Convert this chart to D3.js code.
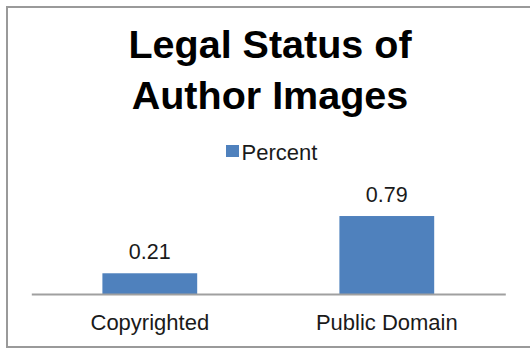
<!DOCTYPE html>
<html>
<head>
<meta charset="utf-8">
<script src="https://cdn.jsdelivr.net/npm/d3@7"></script>
<style>
  html, body { margin: 0; padding: 0; background: #fff; }
  svg { display: block; }
</style>
</head>
<body>
<svg id="chart" width="530" height="349"></svg>
<script>
const titleLines = ["Legal Status of", "Author Images"];
const seriesName = "Percent";
const categories = ["Copyrighted", "Public Domain"];
const values = [0.21, 0.79];
const yDomain = [0, 1];

const svg = d3.select("#chart");
const FONT = "Liberation Sans, Arial, sans-serif";

// chart border (right edge runs off the picture)
svg.append("rect")
  .attr("x", 7).attr("y", 7)
  .attr("width", 540).attr("height", 340)
  .attr("fill", "#fff")
  .attr("stroke", "#9a9a9a")
  .attr("stroke-width", 2);

const plot = { left: 31.3, right: 505.3, bottom: 294, top: 195.3 };

const x = d3.scaleBand()
  .domain(categories)
  .range([plot.left, plot.right])
  .paddingInner(0.6)
  .paddingOuter(0.3);

const y = d3.scaleLinear()
  .domain(yDomain)
  .range([plot.bottom, plot.top]);

// title
const title = svg.append("text")
  .attr("text-anchor", "middle")
  .attr("font-family", FONT)
  .attr("font-weight", "bold")
  .attr("font-size", 39.5)
  .attr("fill", "#000");
title.selectAll("tspan")
  .data(titleLines)
  .join("tspan")
  .attr("x", 270)
  .attr("y", (d, i) => 57.5 + i * 51.5)
  .text(d => d);

// legend
const legend = svg.append("g");
legend.append("rect")
  .attr("x", 226).attr("y", 145)
  .attr("width", 13).attr("height", 12)
  .attr("fill", "#4f81bd");
legend.append("text")
  .attr("x", 241.5).attr("y", 159.5)
  .attr("font-family", FONT)
  .attr("font-size", 22)
  .attr("fill", "#1a1a1a")
  .text(seriesName);

// bars
const data = categories.map((c, i) => ({ c, v: values[i] }));
svg.append("g").selectAll("rect")
  .data(data)
  .join("rect")
  .attr("x", d => x(d.c))
  .attr("y", d => y(d.v))
  .attr("width", x.bandwidth())
  .attr("height", d => y(0) - y(d.v))
  .attr("fill", "#4f81bd");

// data labels
svg.append("g").selectAll("text")
  .data(data)
  .join("text")
  .attr("x", d => x(d.c) + x.bandwidth() / 2)
  .attr("y", d => y(d.v) - 14)
  .attr("text-anchor", "middle")
  .attr("font-family", FONT)
  .attr("font-size", 21.5)
  .attr("fill", "#1a1a1a")
  .text(d => d.v.toFixed(2));

// x axis
const xAxis = d3.axisBottom(x).tickSize(0).tickPadding(0);
const gx = svg.append("g")
  .attr("transform", `translate(0,${plot.bottom})`)
  .call(xAxis);
gx.select(".domain")
  .attr("stroke", "#a0a0a0")
  .attr("stroke-width", 2);
gx.selectAll(".tick text")
  .attr("dy", null)
  .attr("y", 35.5)
  .attr("font-family", FONT)
  .attr("font-size", 22)
  .attr("fill", "#1a1a1a");
</script>
</body>
</html>
